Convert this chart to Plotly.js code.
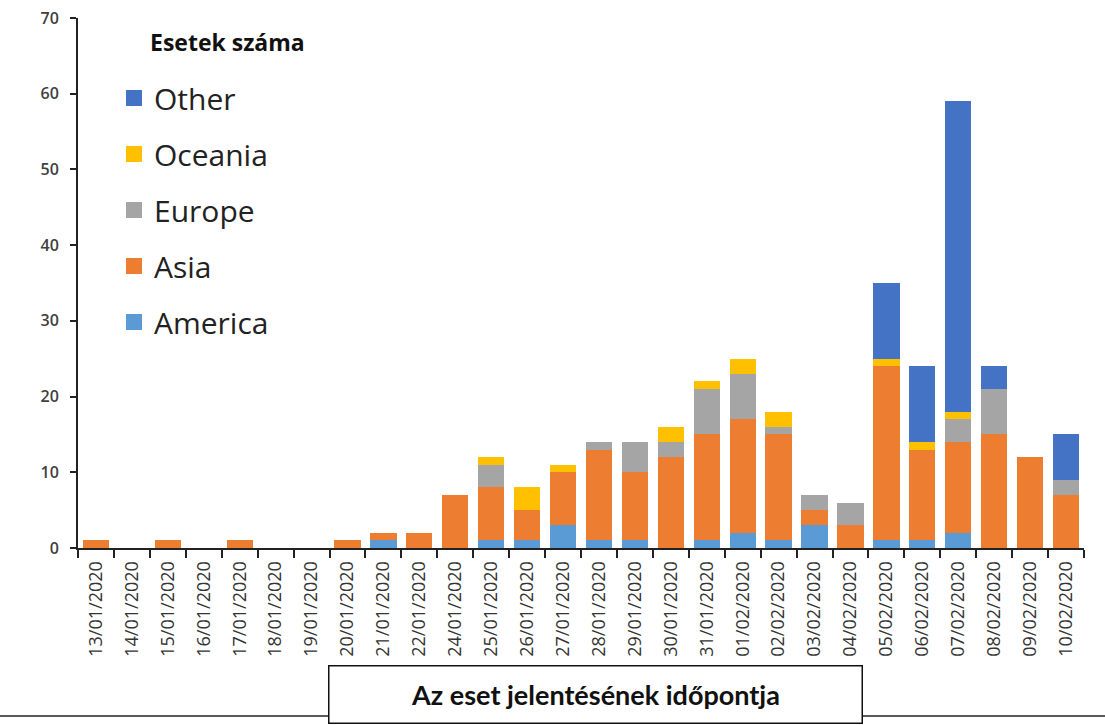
<!DOCTYPE html>
<html>
<head>
<meta charset="utf-8">
<script src="https://cdn.plot.ly/plotly-3.0.1.min.js"></script>
<style>html,body{margin:0;padding:0;background:#fff;}#chart{width:1105px;height:725px;}</style>
</head>
<body>
<div id="chart"></div>
<script>
const dates = ["13/01/2020","14/01/2020","15/01/2020","16/01/2020","17/01/2020","18/01/2020","19/01/2020","20/01/2020","21/01/2020","22/01/2020","24/01/2020","25/01/2020","26/01/2020","27/01/2020","28/01/2020","29/01/2020","30/01/2020","31/01/2020","01/02/2020","02/02/2020","03/02/2020","04/02/2020","05/02/2020","06/02/2020","07/02/2020","08/02/2020","09/02/2020","10/02/2020"];
const america = [0,0,0,0,0,0,0,0,1,0,0,1,1,3,1,1,0,1,2,1,3,0,1,1,2,0,0,0];
const asia    = [1,0,1,0,1,0,0,1,1,2,7,7,4,7,12,9,12,14,15,14,2,3,23,12,12,15,12,7];
const europe  = [0,0,0,0,0,0,0,0,0,0,0,3,0,0,1,4,2,6,6,1,2,3,0,0,3,6,0,2];
const oceania = [0,0,0,0,0,0,0,0,0,0,0,1,3,1,0,0,2,1,2,2,0,0,1,1,1,0,0,0];
const other   = [0,0,0,0,0,0,0,0,0,0,0,0,0,0,0,0,0,0,0,0,0,0,10,10,41,3,0,6];

const seriesNames = ["America","Asia","Europe","Oceania","Other"];
const seriesData = [america, asia, europe, oceania, other];
const seriesColors = ["#5B9BD5","#ED7D31","#A5A5A5","#FFC000","#4472C4"];

// stacked bars (legend entries drawn by marker-only proxy traces for larger square swatches)
const traces = seriesNames.map((n,i)=>({
  type:'bar', name:n, x:dates, y:seriesData[i], showlegend:false,
  marker:{color:seriesColors[i], line:{width:0}}, hoverinfo:'x+y+name'
}));
seriesNames.forEach((n,i)=>{
  traces.push({type:'scatter', mode:'markers', name:n, x:[null], y:[null], legendgroup:n,
    legendrank: 100 - i, showlegend:true,
    marker:{symbol:'square', size:16, color:seriesColors[i], line:{width:0}}});
});

const L = 78, R = 1084, T = 18, B = 548;
const pw = R-L, ph = B-T;
const px = v => (v-L)/pw;
const py = v => (B-v)/ph;

const layout = {
  width:1105, height:725,
  margin:{l:L, r:1105-R, t:T, b:725-B, pad:0},
  paper_bgcolor:'#fff', plot_bgcolor:'#fff',
  barmode:'stack', bargap:0.27,
  showlegend:true,
  legend:{x:px(114), y:py(72), xanchor:'left', yanchor:'top', traceorder:'grouped', itemsizing:'trace',
    tracegroupgap:14, font:{family:'Open Sans', size:30, color:'#222'}, bgcolor:'rgba(0,0,0,0)'},
  xaxis:{type:'category', tickson:'boundaries', ticks:'outside', ticklen:8, tickwidth:2, tickcolor:'#222',
    showline:true, linecolor:'#222', linewidth:2, tickangle:-90, showgrid:false, ticklabelstandoff:4,
    tickfont:{family:'Open Sans', size:18, color:'#333'}, automargin:false},
  yaxis:{range:[0,70], dtick:10, ticks:'outside', ticklen:6, tickwidth:2, tickcolor:'#222',
    showline:true, linecolor:'#222', linewidth:2, showgrid:false, zeroline:false, ticklabelstandoff:8,
    tickfont:{family:'Open Sans', size:16, weight:600, color:'#404040'}, automargin:false},
  annotations:[
    {text:'<b>Esetek száma</b>', xref:'paper', yref:'paper', x:px(148), y:py(42), xanchor:'left', yanchor:'middle',
     showarrow:false, font:{family:'Open Sans', size:23, color:'#111'}},
    {text:'<b>Az eset jelentésének időpontja</b>', xref:'paper', yref:'paper', x:px(595), y:py(694), xanchor:'center', yanchor:'middle',
     showarrow:false, font:{family:'Lato', size:27, color:'#111'},
     bordercolor:'#111', borderwidth:1.5, borderpad:0, bgcolor:'#fff', width:532, height:56}
  ],
  shapes:[
    {type:'line', xref:'paper', yref:'paper', x0:px(0), x1:px(1105), y0:py(716), y1:py(716), line:{color:'#222', width:1.5}, layer:'above'}
  ]
};

Plotly.newPlot('chart', traces, layout, {displayModeBar:false, staticPlot:true});
</script>
</body>
</html>
